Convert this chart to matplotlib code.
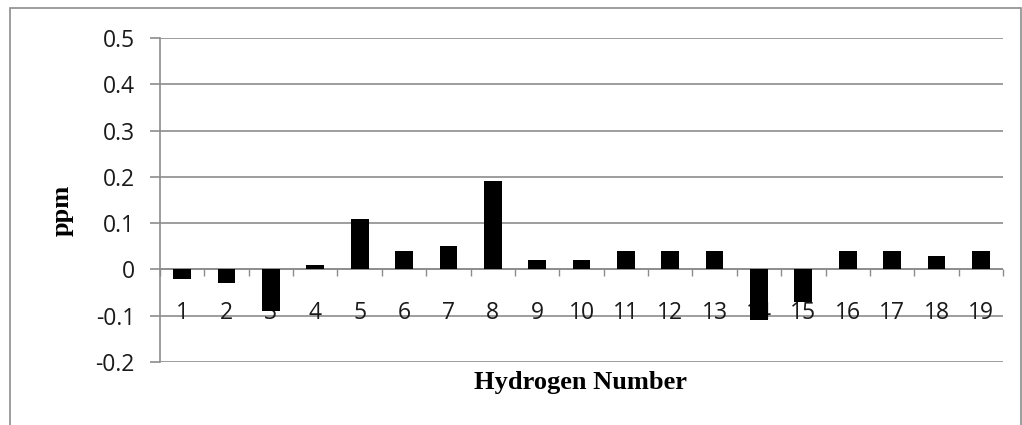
import numpy as np
import matplotlib
matplotlib.use("Agg")
import matplotlib.pyplot as plt
from matplotlib.patches import Rectangle

# data
hydrogens = [str(i) for i in range(1, 20)]
ppm = [-0.02, -0.03, -0.09, 0.01, 0.11, 0.04, 0.05, 0.19, 0.02, 0.02,
       0.04, 0.04, 0.04, -0.11, -0.07, 0.04, 0.04, 0.03, 0.04]
yticks = [-0.2, -0.1, 0, 0.1, 0.2, 0.3, 0.4, 0.5]
ytick_labels = ["-0.2", "-0.1", "0", "0.1", "0.2", "0.3", "0.4", "0.5"]

fig = plt.figure(figsize=(10.22, 4.25), dpi=100)
fig.patch.set_facecolor("white")

# outer chart-area border
fig.add_artist(Rectangle((10 / 1022, -0.05), 1011 / 1022, 1 - 8 / 425 + 0.05,
                         transform=fig.transFigure, fill=False,
                         edgecolor="#8c8c8c", linewidth=1.2))

ax = fig.add_axes([160 / 1022, 1 - 362 / 425, 843 / 1022, 324 / 425])
x = np.arange(len(hydrogens))
ax.bar(x, ppm, width=0.4, color="black", zorder=3)

ax.set_xlim(-0.5, len(hydrogens) - 0.5)
ax.set_ylim(-0.2, 0.5)
ax.set_yticks(yticks)
ax.set_yticklabels(ytick_labels, fontsize=16.5, family="Open Sans", color="#1a1a1a")
ax.yaxis.grid(True, color="#8c8c8c", linewidth=1.2, zorder=0)
ax.tick_params(axis="y", length=7, color="#8c8c8c", width=1.2, pad=11)

# category axis sits at zero
for s in ["top", "right", "bottom"]:
    ax.spines[s].set_visible(False)
ax.spines["left"].set_color("#8c8c8c")
ax.spines["left"].set_linewidth(1.2)
ax.axhline(0, color="#8c8c8c", linewidth=1.2, zorder=2)

ax.set_xticks(x)
ax.set_xticks(np.arange(len(hydrogens) + 1) - 0.5, minor=True)
ax.set_xticklabels([])
ax.tick_params(axis="x", which="major", length=0)
ax.tick_params(axis="x", which="minor", length=5, color="#8c8c8c", width=1.0)
ax.xaxis.set_ticks_position("bottom")
ax.spines["bottom"].set_position(("data", 0))
for xi, lab in zip(x, hydrogens):
    ax.text(xi, -0.094, lab, ha="center", va="center", fontsize=16.5,
            family="Open Sans", color="#1a1a1a", zorder=2)

fig.text(62 / 1022, 1 - 210 / 425, "ppm", rotation=90, ha="center", va="center",
         fontsize=19, fontweight="bold", family="Liberation Serif")
fig.text(580 / 1022, 1 - 382 / 425, "Hydrogen Number", ha="center", va="center",
         fontsize=19, fontweight="bold", family="Liberation Serif")

plt.savefig("out.png", dpi=100)
